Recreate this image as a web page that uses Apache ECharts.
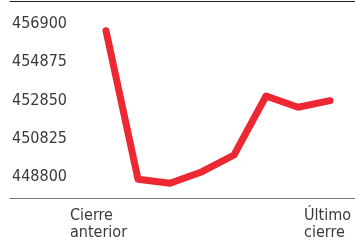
<!DOCTYPE html>
<html>
<head>
<meta charset="utf-8">
<script src="https://cdn.jsdelivr.net/npm/echarts@6/dist/echarts.min.js"></script>
<style>
  html, body { margin: 0; padding: 0; background: #fff; }
  #chart { width: 355px; height: 248px; }
</style>
</head>
<body>
<div id="chart"></div>
<script>
// sesiones: el primer punto es el cierre anterior, el último el último cierre
const steps = [0, 1, 2, 3, 4, 5, 6, 7];
const values = [456545, 448662, 448450, 449065, 449951, 453081, 452482, 452832];
const yTicks = [448800, 450825, 452850, 454875, 456900];
const firstLabel = ['Cierre', 'anterior'];
const lastLabel = ['Último', 'cierre'];

const font = '"DejaVu Sans Condensed", "Roboto", sans-serif';
const textColor = '#3a3a3a';
const fontSize = 16;

const chart = echarts.init(document.getElementById('chart'));

const xRange = { min: -3, max: 7.78 };
const richStyle = (w) => ({ width: w, align: 'left', fontFamily: font, fontSize, lineHeight: 17, color: textColor });

chart.setOption({
  animation: false,
  grid: { left: 10, right: 0, top: 1, bottom: 50, outerBoundsMode: 'none', containLabel: false },
  xAxis: [
    {
      type: 'value',
      ...xRange,
      axisLine: { show: true, lineStyle: { color: '#777', width: 1 } },
      axisTick: { show: false },
      splitLine: { show: false },
      axisLabel: {
        customValues: [steps[0], steps[steps.length - 1]],
        margin: 9,
        fontFamily: font,
        fontSize,
        lineHeight: 17,
        color: textColor,
        formatter: (v) => {
          if (v === steps[0]) return firstLabel.map((t) => `{a|${t}}`).join('\n');
          return lastLabel.map((t) => `{b|${t}}`).join('\n');
        },
        rich: { a: richStyle(72), b: richStyle(52) }
      }
    },
    {
      type: 'value',
      position: 'top',
      ...xRange,
      axisLine: { show: true, lineStyle: { color: '#222', width: 1 } },
      axisTick: { show: false },
      axisLabel: { show: false },
      splitLine: { show: false }
    }
  ],
  yAxis: {
    type: 'value',
    min: 447670,
    max: 458120,
    axisLine: { show: false },
    axisTick: { show: false },
    splitLine: { show: false },
    axisLabel: {
      customValues: yTicks,
      inside: true,
      margin: 2,
      fontFamily: font,
      fontSize,
      color: textColor,
      formatter: (v) => String(v)
    }
  },
  series: [
    {
      type: 'line',
      data: steps.map((s, i) => [s, values[i]]),
      symbol: 'none',
      lineStyle: { color: '#ee2833', width: 7, cap: 'round', join: 'round' }
    }
  ]
});
</script>
</body>
</html>
